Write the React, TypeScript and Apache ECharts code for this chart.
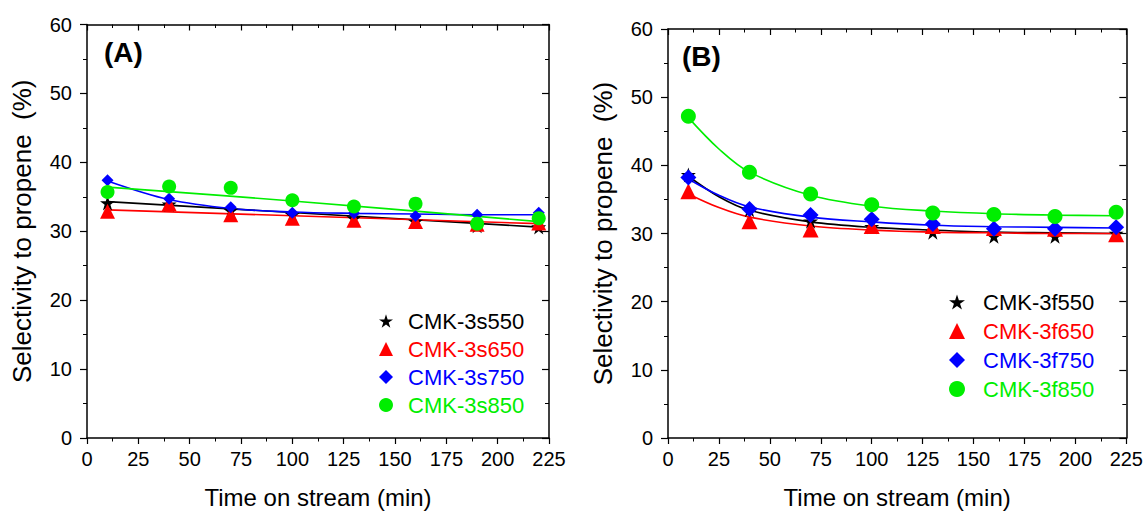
import React, { useEffect, useRef } from 'react';
import * as echarts from 'echarts';

// ---- data ----
const timeMin = [10, 40, 70, 100, 130, 160, 190, 220];
const xTicks = [0, 25, 50, 75, 100, 125, 150, 175, 200, 225];
const yTicks = [0, 10, 20, 30, 40, 50, 60];

const namesA = ['CMK-3s550', 'CMK-3s650', 'CMK-3s750', 'CMK-3s850'];
const namesB = ['CMK-3f550', 'CMK-3f650', 'CMK-3f750', 'CMK-3f850'];

// Panel A: selectivity to propene (%)
const selA550 = [34.1, 33.9, 33.0, 32.4, 31.9, 31.4, 30.8, 30.6];
const selA650 = [32.9, 34.0, 32.4, 31.9, 31.6, 31.4, 31.0, 31.2];
const selA750 = [37.4, 34.7, 33.5, 32.7, 32.6, 32.2, 32.4, 32.7];
const selA850 = [35.7, 36.5, 36.3, 34.5, 33.6, 34.0, 31.1, 31.9];

// Panel B
const selB550 = [38.6, 33.5, 31.8, 31.0, 30.2, 29.6, 29.6, 30.0];
const selB650 = [36.2, 31.8, 30.6, 31.1, 31.1, 30.8, 30.7, 29.9];
const selB750 = [38.2, 33.6, 32.7, 32.1, 31.4, 30.7, 30.7, 30.9];
const selB850 = [47.2, 39.0, 35.8, 34.2, 33.0, 32.8, 32.5, 33.1];

// Fitted curves ([time, selectivity])
const fitA550 = [[10, 34.3], [220, 30.6]];
const fitA650 = [[10, 33.1], [220, 31.1]];
const fitA750 = [[10, 37.3], [40, 34.6], [70, 33.3], [100, 32.8], [130, 32.6], [160, 32.5], [190, 32.4], [220, 32.4]];
const fitA850 = [[10, 36.4], [100, 34.4], [220, 31.4]];

const fitB550 = [[10, 38.4], [25, 35.4], [40, 33.4], [70, 31.7], [100, 30.9], [130, 30.5], [160, 30.2], [190, 30.1], [220, 30.0]];
const fitB650 = [[10, 35.8], [25, 33.8], [40, 32.4], [70, 31.1], [100, 30.5], [130, 30.2], [160, 30.1], [190, 30.0], [220, 30.0]];
const fitB750 = [[10, 38.0], [25, 35.6], [40, 33.9], [70, 32.4], [100, 31.7], [130, 31.2], [160, 31.0], [190, 30.9], [220, 30.8]];
const fitB850 = [[10, 47.0], [25, 42.4], [40, 39.0], [70, 35.6], [100, 34.0], [130, 33.3], [160, 32.9], [190, 32.7], [220, 32.6]];

// ---- styles ----
const FONT = '"Liberation Sans", Arial, sans-serif';
const colors = ['#000000', '#ff0000', '#0000ff', '#00ee00'];
const STAR = 'path://M50,0 L61.2,34.5 L97.6,34.5 L68.2,55.9 L79.4,90.5 L50,69.1 L20.6,90.5 L31.8,55.9 L2.4,34.5 L38.8,34.5 Z';
const symbols = [STAR, 'triangle', 'diamond', 'circle'];
const sizesA = [15, 15, 12, 14];
const sizesB = [15, 16, 16, 15];

const zip = (ys: number[]) => timeMin.map((t, i) => [t, ys[i]]);

export default function App() {
  const ref = useRef<HTMLDivElement>(null);
  useEffect(() => {
    if (!ref.current) return;
    const chart = echarts.init(ref.current, null, { renderer: 'svg' });

    const xAxis = (gridIndex: number, pos: 'bottom' | 'top') => ({
      type: 'value',
      gridIndex,
      position: pos,
      min: xTicks[0],
      max: xTicks[xTicks.length - 1],
      interval: 25,
      axisLine: { show: true, onZero: false, lineStyle: { color: '#000', width: 1.5 } },
      axisTick: { show: true, inside: pos === 'top', length: 6, lineStyle: { color: '#000', width: 1.2 } },
      minorTick: { show: true, splitNumber: 2, length: 3.5, lineStyle: { color: '#000', width: 1 } },
      splitLine: { show: false },
      axisLabel: { show: pos === 'bottom', color: '#000', fontSize: 20, fontFamily: FONT, margin: 11 },
      name: pos === 'bottom' ? 'Time on stream (min)' : '',
      nameLocation: 'middle',
      nameGap: 47,
      nameTextStyle: { color: '#000', fontSize: 24, fontFamily: FONT },
    });
    const yAxis = (gridIndex: number, pos: 'left' | 'right') => ({
      type: 'value',
      gridIndex,
      position: pos,
      min: yTicks[0],
      max: yTicks[yTicks.length - 1],
      interval: 10,
      axisLine: { show: true, onZero: false, lineStyle: { color: '#000', width: 1.5 } },
      axisTick: { show: true, inside: pos === 'right', length: 7, lineStyle: { color: '#000', width: 1.2 } },
      minorTick: { show: true, splitNumber: 2, length: 4, lineStyle: { color: '#000', width: 1 } },
      splitLine: { show: false },
      axisLabel: { show: pos === 'left', color: '#000', fontSize: 20, fontFamily: FONT, margin: 15 },
      name: pos === 'left' ? 'Selectivity to propene  (%)' : '',
      nameLocation: 'middle',
      nameGap: 52,
      nameTextStyle: { color: '#000', fontSize: 26, fontFamily: FONT },
    });

    const fitsA = [fitA550, fitA650, fitA750, fitA850];
    const fitsB = [fitB550, fitB650, fitB750, fitB850];
    const dataA = [selA550, selA650, selA750, selA850];
    const dataB = [selB550, selB650, selB750, selB850];

    const series: any[] = [];
    [[fitsA, dataA, namesA, sizesA, 0], [fitsB, dataB, namesB, sizesB, 1]].forEach(([fits, data, names, sizes, g]: any) => {
      fits.forEach((f: number[][], i: number) => {
        series.push({
          type: 'line',
          name: 'fit ' + names[i],
          xAxisIndex: g * 2,
          yAxisIndex: g * 2,
          data: f,
          smooth: 0.35,
          showSymbol: false,
          symbol: 'none',
          lineStyle: { color: colors[i], width: 1.6 },
          z: 2,
          silent: true,
        });
      });
      data.forEach((d: number[], i: number) => {
        series.push({
          type: 'scatter',
          name: names[i],
          xAxisIndex: g * 2,
          yAxisIndex: g * 2,
          data: zip(d),
          symbol: symbols[i],
          symbolSize: sizes[i],
          itemStyle: { color: colors[i], opacity: 1 },
          z: 3 + i,
        });
      });
    });

    const legend = (names: string[], left: number, top: number, s: number, gap: number, pad: number) => ({
      orient: 'vertical',
      left,
      top,
      itemWidth: s,
      itemHeight: s,
      itemGap: gap,
      selectedMode: false,
      data: names.map((n, i) => ({ name: n, textStyle: { color: colors[i] } })),
      textStyle: { fontSize: 22, fontFamily: FONT, lineHeight: 22, padding: [0, 0, 0, pad] },
    });

    chart.setOption({
      animation: false,
      backgroundColor: '#ffffff',
      grid: [
        { left: 87, top: 24.5, width: 462, height: 414.5 },
        { left: 668, top: 29, width: 459.7, height: 410 },
      ],
      xAxis: [xAxis(0, 'bottom'), xAxis(0, 'top'), xAxis(1, 'bottom'), xAxis(1, 'top')],
      yAxis: [yAxis(0, 'left'), yAxis(0, 'right'), yAxis(1, 'left'), yAxis(1, 'right')],
      legend: [
        legend(namesA, 374, 305, 14, 6, 10),
        legend(namesB, 944, 286, 16, 7, 13),
      ],
      graphic: [
        { type: 'text', left: 104, top: 38, style: { text: '(A)', font: `bold 28px ${FONT}`, fill: '#000' } },
        { type: 'text', left: 682, top: 42, style: { text: '(B)', font: `bold 28px ${FONT}`, fill: '#000' } },
      ],
      series,
    });
    return () => chart.dispose();
  }, []);
  return <div ref={ref} style={{ position: 'absolute', left: 0, top: 0, width: 1146, height: 514 }} />;
}
